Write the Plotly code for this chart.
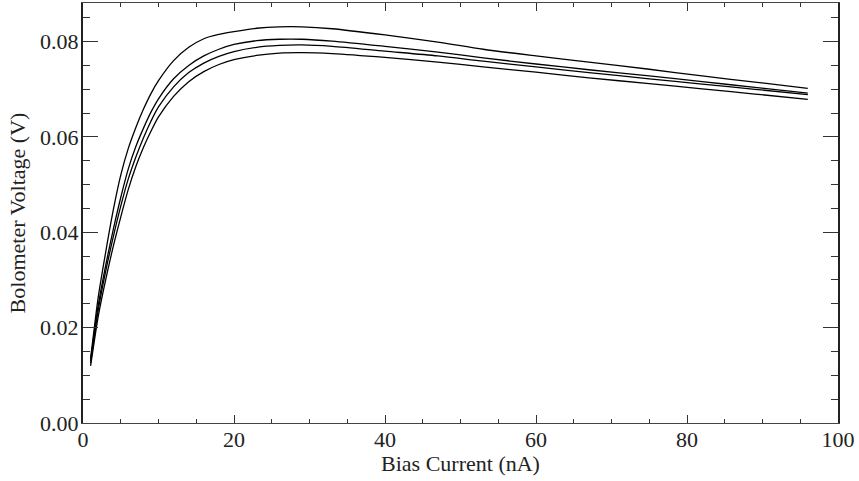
import plotly.graph_objects as go

bias_current = [1, 1.5, 2, 3, 4, 5, 6, 7, 8, 9, 10, 12, 14, 16, 18, 20, 23, 26, 29, 33,
                40, 47, 53, 60, 67, 75, 82, 89, 96]

voltage_a = [0.0135, 0.0200, 0.0262, 0.0358, 0.0446, 0.0520, 0.0576, 0.0620, 0.0658, 0.0691,
             0.0718, 0.0760, 0.0788, 0.0806, 0.0815, 0.0821, 0.0828, 0.0831, 0.0831, 0.0827,
             0.0814, 0.0799, 0.0784, 0.0770, 0.0757, 0.0742, 0.0728, 0.0715, 0.0702]
voltage_b = [0.0130, 0.0190, 0.0245, 0.0330, 0.0405, 0.0473, 0.0533, 0.0580, 0.0618, 0.0652,
             0.0680, 0.0722, 0.0750, 0.0770, 0.0784, 0.0794, 0.0802, 0.0805, 0.0805, 0.0801,
             0.0790, 0.0778, 0.0766, 0.0753, 0.0741, 0.0728, 0.0716, 0.0704, 0.0692]
voltage_c = [0.0125, 0.0182, 0.0235, 0.0318, 0.0390, 0.0455, 0.0512, 0.0558, 0.0598, 0.0633,
             0.0663, 0.0705, 0.0735, 0.0755, 0.0769, 0.0779, 0.0788, 0.0792, 0.0793, 0.0790,
             0.0780, 0.0770, 0.0759, 0.0747, 0.0735, 0.0722, 0.0711, 0.0700, 0.0689]
voltage_d = [0.0120, 0.0172, 0.0222, 0.0300, 0.0370, 0.0432, 0.0490, 0.0538, 0.0578, 0.0612,
             0.0642, 0.0685, 0.0716, 0.0737, 0.0752, 0.0762, 0.0771, 0.0776, 0.0777, 0.0775,
             0.0767, 0.0757, 0.0747, 0.0736, 0.0724, 0.0712, 0.0701, 0.0690, 0.0679]

x_ticks = [0, 20, 40, 60, 80, 100]
y_ticks = [0.00, 0.02, 0.04, 0.06, 0.08]

fig = go.Figure()
for v in [voltage_a, voltage_b, voltage_c, voltage_d]:
    fig.add_trace(go.Scatter(x=bias_current, y=v, mode="lines",
                             line=dict(color="black", width=1.3, shape="spline", smoothing=0.8),
                             showlegend=False, hoverinfo="skip"))

font = dict(family="Liberation Serif", size=22, color="#222")
axis_common = dict(showgrid=False, zeroline=False, showline=True,
                   mirror="allticks", ticks="inside", tickcolor="#333",
                   tickfont=font)

fig.update_xaxes(range=[0, 100], tickvals=x_ticks, ticktext=[str(t) for t in x_ticks],
                 ticklen=8, tickwidth=1, linecolor="#444", linewidth=1.2,
                 ticklabelstandoff=-4,
                 minor=dict(dtick=5, ticks="inside", ticklen=4, tickcolor="#333", showgrid=False),
                 title=dict(text="Bias Current (nA)", font=font, standoff=3),
                 **axis_common)
fig.update_yaxes(range=[0, 0.0881], tickvals=y_ticks, ticktext=[f"{t:.2f}" for t in y_ticks],
                 ticklen=15, tickwidth=1, linecolor="#222", linewidth=2,
                 ticklabelstandoff=-2,
                 minor=dict(dtick=0.005, ticks="inside", ticklen=7, tickcolor="#333", showgrid=False),
                 title=dict(text="Bolometer Voltage (V)", font=font, standoff=8),
                 **axis_common)

fig.update_layout(width=859, height=481, margin=dict(l=83, r=21, t=3, b=58, autoexpand=False),
                  paper_bgcolor="white", plot_bgcolor="white", font=font)

fig.write_html("out.html", config={"displayModeBar": False},
               post_script="document.body.style.margin='0';")
